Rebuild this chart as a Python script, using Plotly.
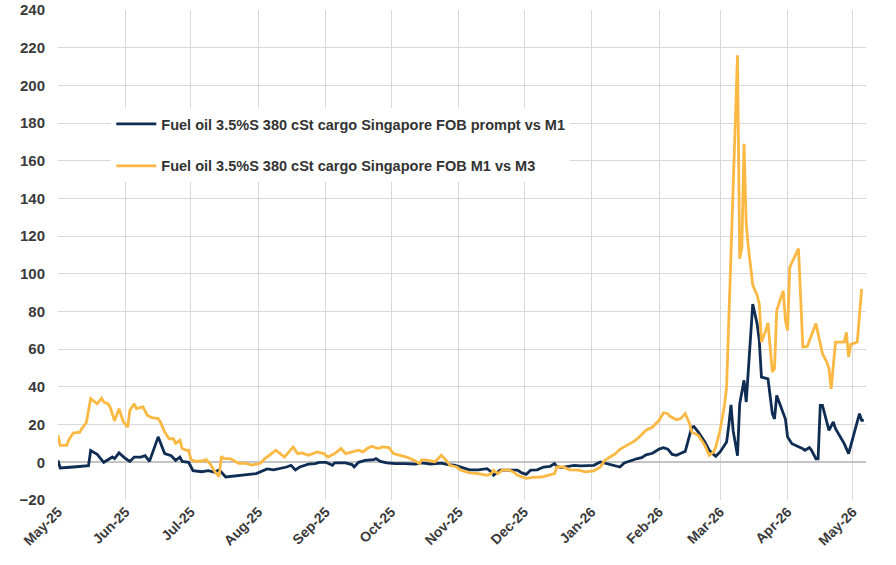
import plotly.graph_objects as go

# Fuel oil 3.5%S 380 cSt cargo Singapore FOB prompt vs M1
prompt_dates = [
    "2025-05-01", "2025-05-02", "2025-05-08", "2025-05-15", "2025-05-16", "2025-05-19", "2025-05-22",
    "2025-05-26", "2025-05-27", "2025-05-29", "2025-06-01", "2025-06-03", "2025-06-05", "2025-06-08",
    "2025-06-10", "2025-06-12", "2025-06-16", "2025-06-19", "2025-06-22", "2025-06-24", "2025-06-26",
    "2025-06-27", "2025-06-30", "2025-07-02", "2025-07-06", "2025-07-09", "2025-07-12", "2025-07-14",
    "2025-07-17", "2025-07-20", "2025-07-25", "2025-07-31", "2025-08-05", "2025-08-08", "2025-08-14",
    "2025-08-16", "2025-08-18", "2025-08-20", "2025-08-24", "2025-08-27", "2025-08-29", "2025-09-01",
    "2025-09-04", "2025-09-05", "2025-09-10", "2025-09-13", "2025-09-14", "2025-09-16", "2025-09-19",
    "2025-09-23", "2025-09-24", "2025-09-26", "2025-09-29", "2025-10-03", "2025-10-07", "2025-10-12",
    "2025-10-15", "2025-10-19", "2025-10-24", "2025-10-27", "2025-10-30", "2025-11-02", "2025-11-06",
    "2025-11-10", "2025-11-14", "2025-11-16", "2025-11-17", "2025-11-20", "2025-11-24", "2025-11-28",
    "2025-11-30", "2025-12-02", "2025-12-04", "2025-12-07", "2025-12-10", "2025-12-13", "2025-12-15",
    "2025-12-16", "2025-12-18", "2025-12-22", "2025-12-24", "2025-12-27", "2025-12-30", "2026-01-02",
    "2026-01-05", "2026-01-08", "2026-01-11", "2026-01-14", "2026-01-16", "2026-01-19", "2026-01-22",
    "2026-01-24", "2026-01-26", "2026-01-29", "2026-01-30", "2026-02-01", "2026-02-03", "2026-02-05",
    "2026-02-07", "2026-02-09", "2026-02-11", "2026-02-13", "2026-02-15", "2026-02-16", "2026-02-17",
    "2026-02-19", "2026-02-22", "2026-02-24", "2026-02-26", "2026-02-27", "2026-03-01", "2026-03-04",
    "2026-03-05", "2026-03-06", "2026-03-07", "2026-03-09", "2026-03-10", "2026-03-12", "2026-03-13",
    "2026-03-16", "2026-03-18", "2026-03-19", "2026-03-20", "2026-03-23", "2026-03-25", "2026-03-26",
    "2026-03-27", "2026-03-29", "2026-03-31", "2026-04-01", "2026-04-03", "2026-04-08", "2026-04-09",
    "2026-04-11", "2026-04-12", "2026-04-14", "2026-04-15", "2026-04-16", "2026-04-17", "2026-04-20",
    "2026-04-22", "2026-04-23", "2026-04-27", "2026-04-29", "2026-04-30", "2026-05-04", "2026-05-05",
    "2026-05-06",
]
prompt_values = [
    1, -3, -2.5, -1.8, 6.2, 4.2, 0,
    2.8, 2, 5, 2, 0.5, 2.8, 2.8,
    3.5, 0.5, 13.5, 4.6, 3.5, 1, 2.8,
    0.5, 0, -4.4, -5, -4.4, -5.3, -4,
    -7.8, -7.4, -6.9, -6, -3.5, -4, -2.5,
    -1.6, -4, -2.5, -1, -0.7, 0, 0,
    -1.6, -0.3, -0.3, -1.2, -2.5, 0, 1,
    1.4, 2, 0.5, -0.3, -0.7, -0.7, -1,
    -0.3, -0.9, -0.4, -1.2, -1.5, -2.5, -4,
    -4, -3.4, -5.1, -6.9, -4.2, -4, -4.2,
    -5.6, -6.4, -4.2, -4, -2.5, -2.1, -0.7,
    -2.1, -2.8, -2.1, -1.6, -1.9, -1.6, -1.6,
    0.2, -0.7, -1.6, -2.5, -0.3, 1, 2,
    2.5, 4, 4.8, 5.5, 7, 7.8, 7,
    4.2, 3.7, 4.8, 5.8, 14.3, 18.7, 19,
    16, 10.8, 6.4, 4.2, 3.2, 5.5, 10.8,
    19.6, 30.5, 16.8, 3.5, 31, 43.5, 32,
    84, 73.5, 64.7, 45.2, 44.3, 25.8, 23,
    35.5, 29.3, 23, 13.4, 9.9, 7.2, 6.4,
    7.8, 6.4, 1.9, 1.9, 30.2, 30.2, 17,
    21.4, 17.8, 9.9, 4.6, 9, 25.8, 22.3,
    22.3,
]

# Fuel oil 3.5%S 380 cSt cargo Singapore FOB M1 vs M3
m1m3_dates = [
    "2025-05-01", "2025-05-02", "2025-05-05", "2025-05-06", "2025-05-08", "2025-05-11", "2025-05-12",
    "2025-05-13", "2025-05-14", "2025-05-16", "2025-05-18", "2025-05-19", "2025-05-21", "2025-05-22",
    "2025-05-24", "2025-05-25", "2025-05-26", "2025-05-27", "2025-05-29", "2025-05-30", "2025-05-31",
    "2025-06-02", "2025-06-03", "2025-06-05", "2025-06-06", "2025-06-09", "2025-06-11", "2025-06-13",
    "2025-06-16", "2025-06-17", "2025-06-19", "2025-06-21", "2025-06-23", "2025-06-24", "2025-06-26",
    "2025-06-27", "2025-06-29", "2025-06-30", "2025-07-01", "2025-07-03", "2025-07-06", "2025-07-08",
    "2025-07-10", "2025-07-12", "2025-07-14", "2025-07-15", "2025-07-16", "2025-07-19", "2025-07-22",
    "2025-07-23", "2025-07-26", "2025-07-29", "2025-08-02", "2025-08-04", "2025-08-06", "2025-08-09",
    "2025-08-11", "2025-08-13", "2025-08-15", "2025-08-17", "2025-08-19", "2025-08-21", "2025-08-24",
    "2025-08-26", "2025-08-28", "2025-08-31", "2025-09-02", "2025-09-05", "2025-09-08", "2025-09-10",
    "2025-09-13", "2025-09-16", "2025-09-18", "2025-09-20", "2025-09-22", "2025-09-25", "2025-09-27",
    "2025-09-30", "2025-10-02", "2025-10-05", "2025-10-08", "2025-10-11", "2025-10-14", "2025-10-15",
    "2025-10-18", "2025-10-21", "2025-10-24", "2025-10-26", "2025-10-28", "2025-10-31", "2025-11-02",
    "2025-11-06", "2025-11-10", "2025-11-14", "2025-11-16", "2025-11-17", "2025-11-19", "2025-11-21",
    "2025-11-24", "2025-11-26", "2025-11-28", "2025-12-02", "2025-12-05", "2025-12-09", "2025-12-12",
    "2025-12-15", "2025-12-16", "2025-12-19", "2025-12-22", "2025-12-26", "2025-12-29", "2026-01-02",
    "2026-01-05", "2026-01-07", "2026-01-10", "2026-01-12", "2026-01-14", "2026-01-16", "2026-01-19",
    "2026-01-21", "2026-01-23", "2026-01-26", "2026-01-29", "2026-02-01", "2026-02-03", "2026-02-05",
    "2026-02-06", "2026-02-09", "2026-02-11", "2026-02-13", "2026-02-15", "2026-02-16", "2026-02-19",
    "2026-02-20", "2026-02-22", "2026-02-24", "2026-02-26", "2026-02-27", "2026-03-01", "2026-03-03",
    "2026-03-04", "2026-03-09", "2026-03-10", "2026-03-11", "2026-03-12", "2026-03-13", "2026-03-14",
    "2026-03-16", "2026-03-18", "2026-03-19", "2026-03-20", "2026-03-22", "2026-03-23", "2026-03-25",
    "2026-03-26", "2026-03-27", "2026-03-30", "2026-03-31", "2026-04-01", "2026-04-02", "2026-04-06",
    "2026-04-08", "2026-04-10", "2026-04-14", "2026-04-17", "2026-04-19", "2026-04-20", "2026-04-21",
    "2026-04-23", "2026-04-27", "2026-04-28", "2026-04-29", "2026-04-30", "2026-05-03", "2026-05-05",
]
m1m3_values = [
    14.3, 9, 9, 12, 15.5, 16, 18,
    19.5, 21, 33.8, 32, 31, 34, 32,
    31, 29, 25.5, 22, 28.5, 24.8, 21.4,
    18.7, 27.6, 31, 28.5, 29.4, 25, 23.7,
    23.2, 21.4, 16, 12.5, 12.5, 10, 11.7,
    7.3, 6.4, 6.4, 1.5, 0.5, 0.7, 1.4,
    -1, -5, -7.5, 3.2, 2, 2, 0,
    -0.5, -0.5, -1.5, -0.5, 2, 3.7, 6.4,
    4.6, 2.8, 5.5, 8.1, 4.6, 5, 3.7,
    4.6, 5.5, 4.6, 2.8, 4.6, 7.3, 4.6,
    5.5, 6.4, 5.5, 7.3, 8.5, 7.3, 8.2,
    7.8, 4.6, 3.7, 2.8, 1.4, -0.7, 1.4,
    1, 0.2, 3.7, 1.4, -1.6, -2.5, -4.2,
    -5.6, -6, -6.9, -6, -4.2, -6, -4.2,
    -4, -5.1, -6.9, -8.5, -8, -7.8, -6.9,
    -6, -2.5, -2.5, -4, -4.2, -5.1, -4.6,
    -2.5, 1, 3.2, 4.6, 6.9, 8.1, 10,
    11.5, 13.6, 17, 18.7, 22.3, 26.3, 25.8,
    24.4, 22.6, 23.2, 25.8, 20.5, 16, 14.3,
    12.6, 9, 3.7, 5.5, 8.1, 17, 30,
    40, 216, 108, 114, 169, 126.6, 114,
    94, 88.7, 84, 63.8, 70, 74, 48,
    49.7, 80.6, 91, 75.3, 70, 103.6, 113.4,
    61.2, 61.5, 73.6, 57.7, 53.2, 49.7, 39,
    63.8, 63.8, 69, 55.9, 62.6, 63.8, 92,
]

series_names = [
    "Fuel oil 3.5%S 380 cSt cargo Singapore FOB prompt vs M1",
    "Fuel oil 3.5%S 380 cSt cargo Singapore FOB M1 vs M3",
]
y_ticks = list(range(-20, 241, 20))

NAVY = "#0f2d52"
GOLD = "#fbb843"
FONT = "Liberation Sans"

fig = go.Figure()
fig.add_trace(go.Scatter(
    x=prompt_dates, y=prompt_values, mode="lines", name=series_names[0],
    legendgroup="a", line=dict(color=NAVY, width=2.8),
))
fig.add_trace(go.Scatter(
    x=m1m3_dates, y=m1m3_values, mode="lines", name=series_names[1],
    legendgroup="b", line=dict(color=GOLD, width=2.8),
))

fig.update_layout(
    width=896, height=565,
    margin=dict(l=58, r=30, t=10, b=65, autoexpand=False),
    paper_bgcolor="white", plot_bgcolor="white",
    font=dict(family=FONT, size=14, color="#3a3a3a"),
    showlegend=True,
    legend=dict(
        x=0.066, y=0.8, xanchor="left", yanchor="top",
        bgcolor="white", borderwidth=0,
        font=dict(family=FONT, size=14.5, color="#333333", weight="bold"),
        tracegroupgap=20, itemwidth=40,
    ),
)
fig.update_xaxes(
    type="date", automargin=False,
    range=["2025-05-01", "2026-05-07"],
    dtick="M1", tick0="2025-05-01", tickformat="%b-%y", tickangle=-45,
    showgrid=True, gridcolor="#d9d9d9", gridwidth=1,
    showline=False, zeroline=False, ticks="",
    tickfont=dict(family=FONT, size=14, color="#3a3a3a", weight="bold"),
)
fig.update_yaxes(
    automargin=False,
    range=[-20, 240], tickvals=y_ticks,
    showgrid=True, gridcolor="#d9d9d9", gridwidth=1,
    zeroline=True, zerolinecolor="#c4c4c4", zerolinewidth=2,
    showline=False, ticks="", ticklabelstandoff=12,
    tickfont=dict(family=FONT, size=15, color="#3a3a3a", weight="bold"),
)

fig.write_html("out.html")
